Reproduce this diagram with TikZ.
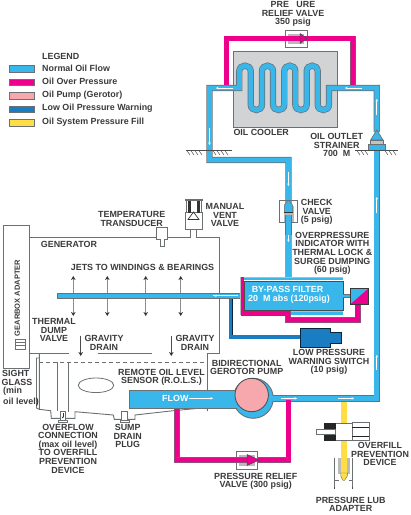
\documentclass[tikz,border=0pt]{standalone}
\usepackage{fontspec}
\setmainfont{Liberation Sans}
\usetikzlibrary{arrows.meta}
\definecolor{oilblue}{HTML}{39B6EA}
\definecolor{oilmag}{HTML}{EC008C}
\definecolor{oilpink}{HTML}{F7A8AC}
\definecolor{oildark}{HTML}{1B7DC1}
\definecolor{oilyel}{HTML}{FFDD44}
\definecolor{edgeg}{HTML}{6B7073}
\definecolor{txt}{HTML}{3A3A3C}
\definecolor{coolg}{HTML}{D1D3D4}
\tikzset{
 lab/.style={font=\fontsize{8.9}{8.6}\selectfont\bfseries,text=txt,align=center,inner sep=0pt},
 labl/.style={lab,align=left,anchor=west},
 swatch/.style={draw=edgeg,line width=.9pt},
 pipeblue/.style={draw=edgeg,line width=.7pt,double=oilblue,double distance=4.9pt},
 pipemag/.style={draw=edgeg!70!oilmag,line width=.4pt,double=oilmag,double distance=4.8pt},
 pipedark/.style={draw=black!70!oildark,line width=.6pt,double=oildark,double distance=3.2pt},
 thin gray/.style={draw=edgeg,line width=.9pt},
 partbox/.style={draw=edgeg,line width=.8pt,fill=white},
 flowmark/.style={draw=white,line width=.7pt,-{Stealth[length=2.5pt,width=2.5pt]}},
 jet/.style={draw=edgeg!80,line width=.8pt,{Stealth[length=4pt,width=4.5pt,color=black!80]}-{Stealth[length=4pt,width=4.5pt,color=black!80]}},
 drain/.style={draw=black!70,line width=.7pt,-{Stealth[length=4pt,width=4.5pt,color=black!80]}},
 ground/.style={draw=black!70,line width=.5pt},
}
\begin{document}
\begin{tikzpicture}[x=1pt,y=-1pt]
\useasboundingbox (0,0) rectangle (411,515);
% legend
\node[lab,anchor=west] (lgt) at (42,56.5) {LEGEND};
\draw[swatch,fill=oilblue] (9.5,65) rectangle (34.5,72);
\draw[swatch,fill=oilmag] (9.5,79) rectangle (34.5,85.5);
\draw[swatch,fill=oilpink] (9.5,92.5) rectangle (34.5,99);
\draw[swatch,fill=oildark] (9.5,106) rectangle (34.5,112.5);
\draw[swatch,fill=oilyel] (9.5,119.5) rectangle (34.5,126);
\node[labl] (l1) at (42,68) {Normal Oil Flow};
\node[labl] (l2) at (42,81.5) {Oil Over Pressure};
\node[labl] (l3) at (42,95) {Oil Pump (Gerotor)};
\node[labl] (l4) at (42,108.5) {Low Oil Pressure Warning};
\node[labl] (l5) at (42,122) {Oil System Pressure Fill};
% cooler
\draw[fill=coolg,draw=edgeg,line width=1pt] (233.3,51) rectangle (337,127);
% over pressure loop
\draw[pipemag] (226.5,86) -- (226.5,38.5) -- (353,38.5) -- (353,86);
\draw[partbox] (285.3,30) rectangle (307,47.3);
\fill[coolg!70!gray] (287.5,33.5) rectangle (304,43.5);
\draw[pipemag] (226.5,38.5) -- (296,38.5);
\draw[pipemag] (296,38.5) -- (353,38.5);
\fill[oilmag,draw=black!70,line width=.5pt] (300,33.5) -- (307,38.5) -- (300,43.5) -- cycle;
% main path
\draw[pipeblue] (376.8,132) -- (376.8,88) -- (329,88) -- (329,104.4)
  .. controls (329,111.9) and (317.7,111.9) .. (317.7,104.4) -- (317.7,71.3)
  .. controls (317.7,63.8) and (306.7,63.8) .. (306.7,71.3) -- (306.7,104.4)
  .. controls (306.7,111.9) and (295.3,111.9) .. (295.3,104.4) -- (295.3,71.3)
  .. controls (295.3,63.8) and (284.3,63.8) .. (284.3,71.3) -- (284.3,104.4)
  .. controls (284.3,111.9) and (273,111.9) .. (273,104.4) -- (273,71.3)
  .. controls (273,63.8) and (262,63.8) .. (262,71.3) -- (262,104.4)
  .. controls (262,111.9) and (250.7,111.9) .. (250.7,104.4) -- (250.7,71.3)
  .. controls (250.7,63.8) and (239.3,63.8) .. (239.3,71.3)
  -- (239.3,88) -- (209.5,88) -- (209.5,160) -- (288.4,160) -- (288.4,278);
\draw[pipeblue] (270,398.4) -- (376.8,398.4) -- (376.8,148);
% strainer
\fill[oilblue,draw=edgeg,line width=.7pt] (376.8,130) -- (383,140) -- (370.6,140) -- cycle;
\fill[coolg!80!gray,draw=edgeg,line width=.5pt] (370.6,140) rectangle (383,144);
\fill[oilblue,draw=edgeg,line width=.7pt] (368.3,144) rectangle (385.7,150.7);
% ground marks
\draw[ground] (186,150.7) -- (232,150.7);
\draw[ground] (355,150.7) -- (398,150.7);
\foreach \gx in {187,191,195,199,213,217,221,225,357,361,365,385,389,393}
  \draw[ground] (\gx,150.7) -- (\gx+3,155);
% flow marks
\draw[flowmark] (233,88) -- (216,88);
\draw[flowmark] (362,88) -- (345,88);
\draw[flowmark] (376.8,115) -- (376.8,99);
\draw[flowmark] (209.5,128) -- (209.5,145);
\draw[flowmark] (288.4,172) -- (288.4,186);
\draw[flowmark] (288.4,225) -- (288.4,242);
\draw[flowmark] (376.8,213) -- (376.8,197);
\draw[flowmark] (376.8,370) -- (376.8,355);
\draw[flowmark] (281,398.4) -- (297,398.4);
\draw[flowmark] (338,398.4) -- (354,398.4);
% check valve
\draw[partbox,fill=none] (279.7,200.7) rectangle (297.3,222.3);
\fill[coolg!70!gray] (283.5,206) rectangle (293.5,222);
\draw[pipeblue] (288.4,215) -- (288.4,235);
\fill[oilblue,draw=edgeg,line width=.5pt] (288.4,200) -- (292.5,205) -- (292.5,212.5) -- (284.3,212.5) -- (284.3,205) -- cycle;
\draw[black!80,line width=.8pt] (284.3,212.8) -- (292.5,212.8);
% generator outline
\draw[thin gray] (3.5,225.7) rectangle (29.5,368.3);
\draw[thin gray] (29.5,237.7) -- (156.7,237.7);
\draw[partbox] (156.7,227.7) -- (167.7,227.7) -- (167.7,239.3) -- (164,239.3) -- (164,246.7) -- (160,246.7) -- (160,239.3) -- (156.7,239.3) -- cycle;
\draw[thin gray] (167.7,237.7) -- (190.7,237.7) -- (190.7,229.5);
\draw[thin gray] (196,229.5) -- (196,237.7) -- (219.3,237.7) -- (219.3,353.3) -- (207.3,353.3) -- (207.3,391);
\draw[partbox] (185.3,212.7) rectangle (202,229.5);
\draw[partbox] (186.5,200.7) rectangle (201,212.7);
\fill[edgeg] (184.8,198.8) rectangle (202.5,201);
\fill[black!80] (188,201) rectangle (191,212.7);
\fill[black!80] (196.5,201) rectangle (199.5,212.7);
\draw[black!80,fill=white,line width=.7pt] (193.5,212) -- (199,219.5) -- (188,219.5) -- cycle;
% valve on gearbox
\draw[partbox] (15,339) rectangle (25.7,349);
\draw[edgeg,line width=.6pt] (15,342) -- (25.7,342) (15,345.5) -- (25.7,345.5);
% tank interior
\draw[thin gray] (29.5,353.3) -- (69.3,353.3);
\draw[thin gray] (98.3,353.6) -- (151.7,353.6);
\draw[thin gray,dashed,dash pattern=on 4pt off 3pt] (39.3,362.3) -- (207,362.3);
\draw[thin gray] (39.3,353.3) -- (39.3,409.3) -- (50.7,410.7) -- (51.3,418.3) -- (75,418.3) -- (75,411.7) -- (113.3,415) -- (114.3,419.3) -- (135,419.3) -- (135,415) -- (173.3,410.7) -- (207.3,407.5) -- (207.3,411);
\draw[thin gray] (39.3,358) -- (36.5,358) -- (36.5,408) -- (39.3,409.3);
\draw[thin gray] (57.3,362.3) -- (57.3,411);
\draw[thin gray] (68.3,362.3) -- (68.3,411.5);
\draw[partbox] (60,411.7) rectangle (65.7,420);
\draw[partbox] (58.3,420) rectangle (67.7,422.5);
\draw[black!80,line width=.5pt,-{Stealth[length=2pt,width=2pt]}] (62.8,413) -- (62.8,418.5);
\draw[partbox] (121.7,411.7) rectangle (127.7,420);
\draw[partbox] (120,420) rectangle (129.3,422.7);
\draw[edgeg,line width=.8pt] (96,385.3) ellipse [x radius=17.7,y radius=7.3];
% jets
\foreach \jx in {73.3,107.3,145.7,180.7}
  \draw[jet] (\jx,276) -- (\jx,316);
\draw[drain] (80.7,335.5) -- (80.7,356);
\draw[drain] (171.3,335.5) -- (171.3,356);
% low pressure line
\draw[pipedark] (230.8,298) -- (230.8,337) -- (301,337);
\fill[oildark,draw=black!70!oildark,line width=.6pt] (300,328) -- (330,328) -- (330,332.3) -- (341,332.3) -- (341,343.3) -- (330,343.3) -- (330,347.7) -- (300,347.7) -- cycle;
% feed pipe
\fill[oilblue,draw=edgeg,line width=.7pt] (57,293) rectangle (241,298.4);
% filter
\fill[coolg!70!gray] (240,276.7) rectangle (342.7,314.8);
\fill[oilblue] (244,277.5) rectangle (342.5,280);
\fill[white] (244,280) rectangle (342.5,281);
\fill[oilblue,draw=black!70,line width=.4pt] (244,281.5) rectangle (342.7,310);
\fill[oilblue] (244,312.3) rectangle (342.5,314.5);
\draw[white,line width=.7pt] (213,295.7) -- (238,295.7);
\draw[flowmark] (238,295.7) -- (214,295.7);
\draw[oilblue,line width=2pt] (342.7,295.7) -- (350.3,295.7);
\draw[edgeg,line width=.4pt] (342.7,294.2) -- (350.3,294.2) (342.7,297.2) -- (350.3,297.2);
\fill[oilmag] (240.7,277) rectangle (244,315);
\draw[pipemag,rounded corners=0pt] (241,313.3) -- (288,313.3) -- (288,320) -- (357.7,320) -- (357.7,304);
\fill[oilmag] (241,311.5) rectangle (288,315);
\fill[oilblue] (350.3,288.3) rectangle (368.7,304.3);
\fill[oilmag] (368.7,288.3) -- (368.7,304.3) -- (350.3,304.3) -- cycle;
\draw[edgeg!50!black,line width=.7pt] (350.3,288.3) rectangle (368.7,304.3);
\node[lab,text=white] (f1) at (287.5,289.3) {BY-PASS FILTER};
\node[lab,text=white] (f2) at (289,299) {20\ \ M abs (120psig)};
% lower over pressure
\draw[pipemag] (177,405) -- (177,460) -- (288.4,460) -- (288.4,400);
\draw[partbox] (236.3,451.7) rectangle (257.7,469);
\fill[coolg!70!gray] (239,455) rectangle (255,465.5);
\draw[pipemag] (177,460) -- (250,460);
\fill[oilmag,draw=black!70,line width=.5pt] (247,454.5) -- (259.3,460) -- (247,465.5) -- cycle;
\draw[pipemag] (270,460) -- (288.4,460);
% pump and flow box
\fill[oilblue,draw=edgeg,line width=.9pt] (253.3,398.3) circle (20);
\fill[oilblue,draw=edgeg,line width=.9pt] (129,390.5) rectangle (236,408);
\fill[oilblue] (228,391) rectangle (240,407.5);
\fill[oilblue] (268,396.2) rectangle (275,400.6);
\fill[oilpink,draw=black!70,line width=.8pt] (251.7,395) circle (16.7);
\node[lab,text=white,anchor=west] (flw) at (162,398.3) {FLOW};
\draw[flowmark] (188.5,398.3) -- (213,398.3);
% fill line and overfill device
\draw[draw=edgeg!50,line width=.3pt,double=oilyel,double distance=5.6pt] (344,401.5) -- (344,472);
\draw[partbox,draw=edgeg] (334.5,457.5) -- (334.5,489) (352.7,457.5) -- (352.7,489);
\fill[coolg!70!gray] (338,457.5) rectangle (350.3,474);
\fill[oilyel] (340.7,440) rectangle (347.3,474) ;
\fill[oilyel,draw=black!60,line width=.4pt] (340.7,473) -- (347.3,473) -- (347.3,476) -- (344.5,480.5) -- (343,480.5) -- (340.7,476) -- cycle;
\draw[edgeg,line width=.7pt] (334.5,480) -- (339,480) (349,480) -- (353,480);
\draw[black!70,line width=.6pt] (334.5,489.3) -- (334.5,487) (352.7,489.3) -- (352.7,487);
\draw[partbox] (335.7,423.3) rectangle (352,440);
\draw[partbox] (352,422.7) rectangle (369.3,440.7);
\draw[black!85,line width=1pt] (352,427.3) -- (369.3,427.3) (352,436) -- (369.3,436);
\fill[black!85] (324.3,423.3) rectangle (335.7,430);
\fill[black!85] (324.3,434.5) rectangle (335.7,440.7);
\draw[partbox] (316,429.5) rectangle (335.7,434.7);
% labels
\node[lab] (t1) at (293,14) {PRE\ \ \ URE\\RELIEF VALVE\\350 psig};
\node[lab,anchor=west] (t2) at (233.3,132.3) {OIL COOLER};
\node[lab] (t3) at (336.7,145.3) {OIL OUTLET\\STRAINER\\700\ \ M};
\node[lab] (t4) at (131.7,219) {TEMPERATURE\\TRANSDUCER};
\node[lab,anchor=west] (t5) at (40.7,244.3) {GENERATOR};
\node[lab,anchor=west] (t6) at (70.7,267.3) {JETS TO WINDINGS \& BEARINGS};
\node[lab] (t7) at (225,215.2) {MANUAL\\VENT\\VALVE};
\node[lab] (t8) at (316.7,212) {CHECK\\VALVE\\(5 psig)};
\node[lab] (t9) at (332.3,253.4) {OVERPRESSURE\\INDICATOR WITH\\THERMAL LOCK \&\\SURGE DUMPING\\(60 psig)};
\node[lab] (t10) at (329,362) {LOW PRESSURE\\WARNING SWITCH\\(10 psig)};
\node[lab] (t11) at (246.7,367.5) {BIDIRECTIONAL\\GEROTOR PUMP};
\node[lab] (t12) at (54,330) {THERMAL\\DUMP\\VALVE};
\node[lab] (t13) at (104,342.7) {GRAVITY\\DRAIN};
\node[lab] (t14) at (195,342.7) {GRAVITY\\DRAIN};
\node[lab,anchor=west] (t15a) at (2,373.7) {SIGHT};
\node[lab,anchor=west] (t15b) at (1.5,382.2) {GLASS};
\node[lab,anchor=west] (t15c) at (3,391.6) {(min};
\node[lab,anchor=west] (t15d) at (3,402) {oil level)};
\node[lab] (t16) at (161.5,377.2) {REMOTE OIL LEVEL\\SENSOR (R.O.L.S.)};
\node[lab] (t17) at (68,448.5) {OVERFLOW\\CONNECTION\\(max oil level)\\TO OVERFILL\\PREVENTION\\DEVICE};
\node[lab] (t18) at (127.7,436) {SUMP\\DRAIN\\PLUG};
\node[lab] (t19) at (255.7,481.2) {PRESSURE RELIEF\\VALVE (300 psig)};
\node[lab] (t20) at (380,454.3) {OVERFILL\\PREVENTION\\DEVICE};
\node[lab] (t21) at (350.7,504.2) {PRESSURE LUB\\ADAPTER};
\node[lab,rotate=90,font=\fontsize{7.5}{8}\selectfont\bfseries] (t22) at (17.3,298) {GEARBOX ADAPTER};
\end{tikzpicture}
\end{document}
